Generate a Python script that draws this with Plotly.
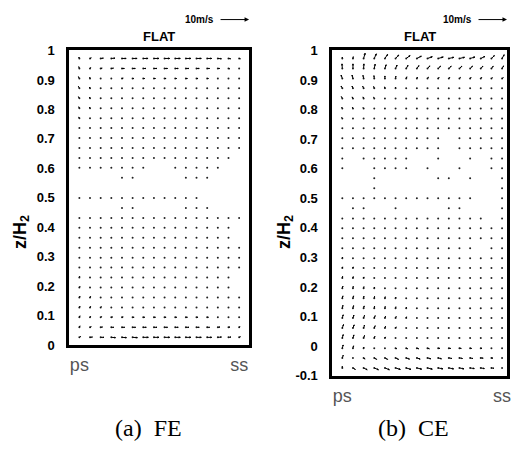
import plotly.graph_objects as go

# ---------------- data ----------------
X_GRID = [0.0, 0.0667, 0.1333, 0.2, 0.2667, 0.3333, 0.4, 0.4667, 0.5333, 0.6,
          0.6667, 0.7333, 0.8, 0.8667, 0.9333, 1.0]
X_TICKS = ["ps", "ss"]
Y_TICKS_FE = [0, 0.1, 0.2, 0.3, 0.4, 0.5, 0.6, 0.7, 0.8, 0.9, 1]
Y_TICKS_CE = [-0.1, 0, 0.1, 0.2, 0.3, 0.4, 0.5, 0.6, 0.7, 0.8, 0.9, 1]

Z_FE = [0.973, 0.939, 0.905, 0.872, 0.838, 0.804, 0.770, 0.737, 0.703, 0.669,
        0.635, 0.602, 0.568, 0.534, 0.500, 0.466, 0.432, 0.399, 0.365, 0.331,
        0.297, 0.264, 0.230, 0.196, 0.162, 0.128, 0.095, 0.061, 0.027]
Z_CE = Z_FE + [-0.007, -0.040, -0.074]

N = None
# velocity components (m/s), rows from top to bottom, 16 columns ps -> ss
U_FE = [
    [-0.2, 0.4, 0.9, 1.2, 1.4, 1.5, 1.6, 1.7, 1.7, 1.7, 1.7, 1.6, 1.5, 1.2, 0.7, 0.4],
    [-0.2, 0.2, 0.5, 0.7, 0.8, 0.9, 0.9, 1.0, 1.0, 1.0, 1.0, 0.9, 0.8, 0.6, 0.4, 0.2],
    [-0.3, -0.1, 0.2, 0.3, 0.4, 0.4, 0.5, 0.5, 0.5, 0.5, 0.5, 0.5, 0.4, 0.3, 0.2, 0.1],
    [-0.3, -0.2, 0.0, 0.1, 0.2, 0.2, 0.2, 0.3, 0.3, 0.3, 0.3, 0.3, 0.2, 0.2, 0.1, 0.1],
    [-0.3, -0.2, -0.1, 0.0, 0.1, 0.1, 0.1, 0.2, 0.2, 0.2, 0.2, 0.2, 0.1, 0.1, 0.1, 0.0],
    [-0.2, -0.2, -0.1, 0.0, 0.0, 0.1, 0.1, 0.1, 0.1, 0.1, 0.1, 0.1, 0.1, 0.3, 0.3, 0.2],
    [-0.2, -0.1, -0.1, 0.0, 0.0, 0.0, 0.1, 0.1, 0.1, 0.1, 0.1, 0.1, 0.0, 0.3, 0.3, 0.2],
    [-0.1, -0.1, 0.0, 0.0, 0.0, 0.0, 0.0, 0.0, 0.0, 0.0, 0.0, 0.0, 0.0, 0.2, 0.2, 0.2],
    [-0.1, 0.0, 0.0, 0.0, 0.0, 0.0, 0.0, 0.0, 0.0, 0.0, 0.0, 0.0, 0.0, 0.1, 0.2, 0.2],
    [0.0, 0.0, 0.0, 0.0, 0.0, 0.0, 0.0, 0.0, 0.0, 0.0, 0.0, 0.0, 0.0, 0.0, 0.1, 0.1],
    [0.0, 0.0, 0.0, 0.0, 0.0, 0.0, 0.0, 0.0, 0.0, 0.0, 0.0, 0.0, 0.0, 0.0, 0.0, N],
    [0.0, 0.0, 0.0, 0.0, 0.0, 0.0, 0.0, N, N, 0.0, 0.0, 0.0, 0.0, 0.0, N, N],
    [N, N, N, N, 0.0, 0.0, N, N, N, N, 0.0, 0.0, 0.0, N, N, N],
    [N, N, N, N, N, N, N, N, N, N, N, N, N, N, N, N],
    [0.0, 0.0, 0.0, 0.0, 0.0, 0.0, 0.0, 0.0, 0.0, 0.0, 0.0, 0.0, N, N, N, N],
    [N, N, N, N, 0.0, 0.0, N, N, N, N, 0.0, 0.0, 0.0, N, N, N],
    [0.0, 0.0, 0.0, 0.0, 0.0, 0.0, 0.0, 0.0, 0.0, 0.0, 0.0, 0.0, 0.0, 0.0, 0.0, 0.0],
    [0.0, 0.0, 0.0, 0.0, 0.0, 0.0, 0.0, 0.0, 0.0, 0.0, 0.0, 0.0, 0.0, 0.0, 0.0, N],
    [0.0, 0.0, 0.0, 0.0, 0.0, 0.0, 0.0, 0.0, 0.0, 0.0, 0.0, 0.0, 0.0, 0.0, 0.0, N],
    [0.0, 0.0, 0.0, 0.0, 0.0, 0.0, 0.0, 0.0, 0.0, 0.0, 0.0, 0.0, 0.0, 0.0, 0.0, 0.0],
    [0.0, 0.0, 0.0, 0.0, 0.0, 0.0, 0.0, 0.0, 0.0, 0.0, 0.0, 0.0, 0.0, 0.0, 0.0, 0.0],
    [0.1, 0.1, 0.1, 0.0, 0.0, 0.0, 0.0, 0.0, 0.0, 0.0, 0.0, 0.0, 0.0, 0.0, 0.0, 0.0],
    [0.1, 0.1, 0.1, 0.1, 0.0, 0.0, 0.0, 0.0, 0.0, 0.0, 0.0, 0.0, 0.0, 0.0, 0.0, N],
    [0.2, 0.1, 0.1, 0.1, 0.0, 0.0, 0.0, 0.0, 0.0, 0.0, 0.0, 0.0, 0.0, 0.0, 0.0, N],
    [0.2, 0.2, 0.1, 0.1, 0.1, 0.0, 0.0, 0.0, 0.0, 0.0, 0.0, 0.0, 0.0, 0.0, 0.0, 0.0],
    [0.2, 0.2, 0.2, 0.2, 0.2, 0.2, 0.2, 0.2, 0.2, 0.2, 0.2, 0.2, 0.2, 0.1, 0.1, 0.0],
    [0.2, 0.2, 0.3, 0.4, 0.4, 0.5, 0.5, 0.5, 0.5, 0.5, 0.5, 0.5, 0.4, 0.3, 0.2, 0.1],
    [0.2, 0.4, 0.6, 0.8, 0.9, 1.0, 1.0, 1.0, 1.0, 1.0, 1.0, 0.9, 0.8, 0.7, 0.5, 0.3],
    [0.4, 0.8, 1.1, 1.4, 1.5, 1.6, 1.7, 1.7, 1.7, 1.7, 1.7, 1.6, 1.5, 1.2, 0.8, 0.4],
]
V_FE = [
    [0.5, 0.2, 0.1, 0.1, 0.0, 0.0, 0.0, 0.0, 0.0, 0.0, 0.0, 0.0, 0.0, -0.1, -0.1, -0.1],
    [0.6, 0.3, 0.1, 0.1, 0.0, 0.0, 0.0, 0.0, 0.0, 0.0, 0.0, 0.0, 0.0, 0.0, -0.1, -0.1],
    [0.6, 0.4, 0.2, 0.1, 0.1, 0.0, 0.0, 0.0, 0.0, 0.0, 0.0, 0.0, 0.0, 0.0, 0.0, 0.0],
    [0.6, 0.4, 0.3, 0.2, 0.1, 0.1, 0.0, 0.0, 0.0, 0.0, 0.0, 0.0, 0.0, 0.0, 0.0, 0.0],
    [0.5, 0.4, 0.3, 0.2, 0.1, 0.1, 0.0, 0.0, 0.0, 0.0, 0.0, 0.0, 0.0, 0.0, 0.0, 0.0],
    [0.5, 0.4, 0.3, 0.2, 0.1, 0.1, 0.0, 0.0, 0.0, 0.0, 0.0, 0.0, 0.0, 0.0, 0.0, 0.0],
    [0.4, 0.3, 0.2, 0.2, 0.1, 0.0, 0.0, 0.0, 0.0, 0.0, 0.0, 0.0, 0.0, 0.0, 0.0, 0.0],
    [0.3, 0.3, 0.2, 0.1, 0.0, 0.0, 0.0, 0.0, 0.0, 0.0, 0.0, 0.0, 0.0, 0.0, 0.0, 0.0],
    [0.3, 0.2, 0.1, 0.1, 0.0, 0.0, 0.0, 0.0, 0.0, 0.0, 0.0, 0.0, 0.0, 0.0, 0.0, 0.0],
    [0.2, 0.2, 0.1, 0.0, 0.0, 0.0, 0.0, 0.0, 0.0, 0.0, 0.0, 0.0, 0.0, 0.0, 0.0, 0.0],
    [0.1, 0.1, 0.1, 0.0, 0.0, 0.0, 0.0, 0.0, 0.0, 0.0, 0.0, 0.0, 0.0, 0.0, 0.0, N],
    [0.1, 0.1, 0.0, 0.0, 0.0, 0.0, 0.0, N, N, 0.0, 0.0, 0.0, 0.0, 0.0, N, N],
    [N, N, N, N, 0.0, 0.0, N, N, N, N, 0.0, 0.0, 0.0, N, N, N],
    [N, N, N, N, N, N, N, N, N, N, N, N, N, N, N, N],
    [0.0, 0.0, 0.0, 0.0, 0.0, 0.0, 0.0, 0.0, 0.0, 0.0, 0.0, 0.0, N, N, N, N],
    [N, N, N, N, 0.0, 0.0, N, N, N, N, 0.0, 0.0, 0.0, N, N, N],
    [0.1, 0.1, 0.0, 0.0, 0.0, 0.0, 0.0, 0.0, 0.0, 0.0, 0.0, 0.0, 0.0, 0.0, 0.0, 0.0],
    [0.1, 0.1, 0.1, 0.0, 0.0, 0.0, 0.0, 0.0, 0.0, 0.0, 0.0, 0.0, 0.0, 0.0, 0.0, N],
    [0.2, 0.1, 0.1, 0.0, 0.0, 0.0, 0.0, 0.0, 0.0, 0.0, 0.0, 0.0, 0.0, 0.0, 0.0, N],
    [0.2, 0.2, 0.1, 0.1, 0.0, 0.0, 0.0, 0.0, 0.0, 0.0, 0.0, 0.0, 0.0, 0.0, 0.0, 0.0],
    [0.3, 0.2, 0.1, 0.1, 0.1, 0.0, 0.0, 0.0, 0.0, 0.0, 0.0, 0.0, 0.0, 0.0, 0.0, 0.0],
    [0.3, 0.3, 0.2, 0.1, 0.1, 0.0, 0.0, 0.0, 0.0, 0.0, 0.0, 0.0, 0.0, 0.0, 0.0, 0.0],
    [0.4, 0.3, 0.2, 0.2, 0.1, 0.1, 0.0, 0.0, 0.0, 0.0, 0.0, 0.0, 0.0, 0.0, 0.0, N],
    [0.4, 0.3, 0.3, 0.2, 0.1, 0.1, 0.0, 0.0, 0.0, 0.0, 0.0, 0.0, 0.0, 0.0, 0.0, N],
    [0.5, 0.4, 0.3, 0.2, 0.1, 0.1, 0.0, 0.0, 0.0, 0.0, 0.0, 0.0, 0.0, 0.0, 0.0, 0.0],
    [0.5, 0.4, 0.3, 0.2, 0.1, 0.1, 0.0, 0.0, 0.0, 0.0, 0.0, 0.0, 0.0, 0.0, 0.0, 0.0],
    [0.5, 0.3, 0.2, 0.1, 0.1, 0.0, 0.0, 0.0, 0.0, 0.0, 0.0, 0.0, 0.0, 0.0, 0.1, 0.1],
    [0.5, 0.2, 0.1, 0.0, 0.0, 0.0, 0.0, 0.0, 0.0, 0.0, 0.0, 0.0, 0.0, 0.1, 0.1, 0.2],
    [0.3, 0.1, 0.0, -0.1, -0.1, -0.1, 0.0, 0.0, 0.0, 0.0, 0.0, 0.0, 0.0, 0.1, 0.1, 0.2],
]

U_CE = [
    [0.0, 0.1, 0.5, 0.7, 0.9, 1.1, 1.3, 1.5, 1.6, 1.7, 1.7, 1.7, 1.6, 1.4, 1.0, 0.7],
    [-0.1, 0.0, 0.1, 0.3, 0.4, 0.5, 0.6, 0.7, 0.8, 0.8, 0.8, 0.8, 0.8, 0.7, 0.6, 0.5],
    [-0.4, -0.3, -0.2, -0.1, 0.0, 0.1, 0.2, 0.2, 0.3, 0.3, 0.3, 0.3, 0.3, 0.3, 0.3, 0.4],
    [-0.4, -0.3, -0.3, -0.2, -0.1, 0.0, 0.1, 0.1, 0.1, 0.1, 0.1, 0.1, 0.1, 0.1, 0.1, 0.1],
    [-0.3, -0.3, -0.2, -0.2, -0.1, -0.1, 0.0, 0.0, 0.0, 0.0, 0.0, 0.0, 0.0, 0.0, 0.0, 0.0],
    [-0.2, -0.2, -0.2, -0.1, -0.1, 0.0, 0.0, 0.0, 0.0, 0.0, 0.0, 0.0, 0.0, 0.0, 0.0, 0.0],
    [-0.2, -0.1, -0.1, -0.1, 0.0, 0.0, 0.0, 0.0, 0.0, 0.0, 0.0, 0.0, 0.0, 0.0, 0.0, 0.0],
    [-0.1, -0.1, -0.1, 0.0, 0.0, 0.0, 0.0, 0.0, 0.0, 0.0, 0.0, 0.0, 0.0, 0.0, 0.0, 0.0],
    [-0.1, 0.0, 0.0, 0.0, 0.0, 0.0, 0.0, 0.0, 0.0, 0.0, N, 0.0, 0.0, 0.0, 0.0, 0.0],
    [0.0, 0.0, 0.0, 0.0, 0.0, 0.0, 0.0, 0.0, 0.0, 0.0, N, 0.0, 0.0, 0.0, 0.0, 0.0],
    [0.0, N, 0.0, 0.0, 0.0, 0.0, 0.0, N, N, 0.0, N, N, 0.0, N, 0.0, 0.0],
    [0.0, N, N, 0.0, 0.0, 0.0, 0.0, N, 0.0, N, N, 0.0, N, N, 0.0, 0.0],
    [N, N, N, 0.0, N, N, N, N, N, 0.0, 0.0, N, 0.0, N, N, 0.0],
    [N, N, N, 0.0, N, N, N, N, N, N, N, N, N, N, N, 0.0],
    [0.0, 0.0, 0.0, 0.0, 0.0, 0.0, 0.0, 0.0, 0.0, 0.0, 0.0, 0.0, 0.0, N, N, 0.0],
    [N, 0.0, 0.0, N, N, 0.0, N, N, N, N, 0.0, 0.0, N, N, N, 0.0],
    [0.0, 0.0, 0.0, 0.0, 0.0, 0.0, 0.0, 0.0, 0.0, 0.0, 0.0, 0.0, 0.0, 0.0, N, 0.0],
    [0.0, 0.0, 0.0, 0.0, 0.0, 0.0, 0.0, 0.0, 0.0, 0.0, 0.0, 0.0, 0.0, 0.0, 0.0, 0.0],
    [0.0, 0.0, 0.0, 0.0, 0.0, 0.0, 0.0, 0.0, 0.0, 0.0, 0.0, 0.0, 0.0, 0.0, 0.0, 0.0],
    [0.0, 0.0, 0.0, 0.0, 0.0, 0.0, 0.0, 0.0, 0.0, 0.0, 0.0, 0.0, 0.0, N, 0.0, 0.0],
    [0.1, 0.1, 0.0, 0.0, 0.0, 0.0, 0.0, 0.0, 0.0, 0.0, 0.0, 0.0, 0.0, 0.0, 0.0, 0.0],
    [0.1, 0.1, 0.1, 0.0, 0.0, 0.0, 0.0, 0.0, 0.0, 0.0, 0.0, 0.0, 0.0, 0.0, 0.0, 0.0],
    [0.1, 0.1, 0.1, 0.1, 0.0, 0.0, 0.0, 0.0, 0.0, 0.0, 0.0, 0.0, 0.0, 0.0, 0.0, 0.0],
    [0.2, 0.1, 0.1, 0.1, 0.1, 0.0, 0.0, 0.0, 0.0, 0.0, 0.0, 0.0, 0.0, 0.0, 0.0, 0.0],
    [0.2, 0.2, 0.1, 0.1, 0.1, 0.1, 0.0, 0.0, 0.0, 0.0, 0.0, 0.0, 0.0, 0.0, 0.0, 0.0],
    [0.2, 0.2, 0.2, 0.1, 0.1, 0.1, 0.1, 0.0, 0.0, 0.0, 0.0, 0.0, 0.0, 0.0, 0.0, 0.0],
    [0.3, 0.3, 0.3, 0.3, 0.2, 0.2, 0.1, 0.1, 0.0, 0.0, 0.0, 0.0, 0.0, 0.0, 0.0, 0.0],
    [0.4, 0.4, 0.3, 0.3, 0.2, 0.2, 0.1, 0.1, 0.1, 0.0, 0.0, 0.0, 0.0, 0.0, 0.0, 0.0],
    [0.3, 0.3, 0.3, 0.2, 0.2, 0.1, 0.1, 0.1, 0.1, 0.1, 0.1, 0.1, 0.1, 0.1, 0.0, 0.0],
    [0.3, 0.2, 0.1, 0.1, 0.3, 0.4, 0.5, 0.6, 0.6, 0.6, 0.6, 0.6, 0.5, 0.4, 0.3, 0.2],
    [0.3, 0.1, 0.5, 0.8, 0.9, 1.0, 1.1, 1.1, 1.1, 1.1, 1.0, 1.0, 0.9, 0.8, 0.5, 0.3],
    [0.0, 0.8, 1.2, 1.4, 1.5, 1.6, 1.6, 1.6, 1.6, 1.6, 1.6, 1.5, 1.4, 1.2, 0.8, 0.3],
]
V_CE = [
    [0.5, 0.6, 1.8, 1.6, 1.4, 1.2, 1.0, 0.8, 0.6, 0.5, 0.4, 0.4, 0.5, 0.7, 1.0, 1.3],
    [1.6, 1.6, 1.6, 1.5, 1.3, 1.2, 1.1, 1.0, 0.9, 0.8, 0.8, 0.8, 0.8, 0.8, 0.8, 0.9],
    [1.2, 1.2, 1.1, 1.0, 0.9, 0.8, 0.6, 0.5, 0.5, 0.4, 0.4, 0.4, 0.4, 0.4, 0.3, 0.3],
    [0.8, 0.8, 0.7, 0.6, 0.5, 0.4, 0.3, 0.3, 0.2, 0.2, 0.2, 0.2, 0.2, 0.2, 0.2, 0.2],
    [0.6, 0.5, 0.5, 0.4, 0.3, 0.3, 0.2, 0.2, 0.1, 0.1, 0.1, 0.1, 0.1, 0.1, 0.1, 0.1],
    [0.4, 0.4, 0.3, 0.3, 0.2, 0.2, 0.1, 0.1, 0.1, 0.1, 0.0, 0.0, 0.0, 0.0, 0.0, 0.1],
    [0.3, 0.3, 0.2, 0.2, 0.1, 0.1, 0.1, 0.0, 0.0, 0.0, 0.0, 0.0, 0.0, 0.0, 0.0, 0.0],
    [0.2, 0.2, 0.2, 0.1, 0.1, 0.0, 0.0, 0.0, 0.0, 0.0, 0.0, 0.0, 0.0, 0.0, 0.0, 0.0],
    [0.2, 0.1, 0.1, 0.1, 0.0, 0.0, 0.0, 0.0, 0.0, 0.0, N, 0.0, 0.0, 0.0, 0.0, 0.0],
    [0.1, 0.1, 0.1, 0.0, 0.0, 0.0, 0.0, 0.0, 0.0, 0.0, N, 0.0, 0.0, 0.0, 0.0, 0.0],
    [0.0, N, 0.0, 0.0, 0.0, 0.0, 0.0, N, N, 0.0, N, N, 0.0, N, 0.0, 0.0],
    [0.0, N, N, 0.0, 0.0, 0.0, 0.0, N, 0.0, N, N, 0.0, N, N, 0.0, 0.0],
    [N, N, N, 0.0, N, N, N, N, N, 0.0, 0.0, N, 0.0, N, N, 0.0],
    [N, N, N, 0.0, N, N, N, N, N, N, N, N, N, N, N, 0.0],
    [0.0, 0.0, 0.0, 0.0, 0.0, 0.0, 0.0, 0.0, 0.0, 0.0, 0.0, 0.0, 0.0, N, N, 0.0],
    [N, 0.0, 0.0, N, N, 0.0, N, N, N, N, 0.0, 0.0, N, N, N, 0.0],
    [0.1, 0.1, 0.0, 0.0, 0.0, 0.0, 0.0, 0.0, 0.0, 0.0, 0.0, 0.0, 0.0, 0.0, N, 0.0],
    [0.2, 0.1, 0.1, 0.0, 0.0, 0.0, 0.0, 0.0, 0.0, 0.0, 0.0, 0.0, 0.0, 0.0, 0.0, 0.0],
    [0.2, 0.2, 0.1, 0.1, 0.0, 0.0, 0.0, 0.0, 0.0, 0.0, 0.0, 0.0, 0.0, 0.0, 0.0, 0.0],
    [0.3, 0.2, 0.2, 0.1, 0.1, 0.0, 0.0, 0.0, 0.0, 0.0, 0.0, 0.0, 0.0, N, 0.0, 0.0],
    [0.4, 0.3, 0.2, 0.2, 0.1, 0.1, 0.0, 0.0, 0.0, 0.0, 0.0, 0.0, 0.0, 0.0, 0.0, 0.0],
    [0.4, 0.4, 0.3, 0.2, 0.2, 0.1, 0.1, 0.0, 0.0, 0.0, 0.0, 0.0, 0.0, 0.0, 0.0, 0.0],
    [0.6, 0.5, 0.4, 0.3, 0.2, 0.2, 0.1, 0.1, 0.0, 0.0, 0.0, 0.0, 0.0, 0.0, 0.0, 0.0],
    [0.7, 0.6, 0.5, 0.4, 0.3, 0.2, 0.2, 0.1, 0.1, 0.0, 0.0, 0.0, 0.0, 0.0, 0.0, 0.0],
    [0.8, 0.8, 0.7, 0.6, 0.5, 0.4, 0.3, 0.2, 0.1, 0.1, 0.0, 0.0, 0.0, 0.0, 0.0, 0.0],
    [1.0, 0.9, 0.8, 0.7, 0.6, 0.5, 0.4, 0.3, 0.2, 0.1, 0.1, 0.0, 0.0, 0.0, 0.0, 0.0],
    [1.1, 1.0, 0.9, 0.8, 0.6, 0.5, 0.4, 0.3, 0.2, 0.2, 0.1, 0.1, 0.0, 0.0, 0.0, 0.0],
    [1.2, 1.1, 1.0, 0.8, 0.6, 0.4, 0.3, 0.2, 0.1, 0.1, 0.1, 0.0, 0.0, 0.0, 0.0, 0.0],
    [1.2, 1.1, 0.9, 0.6, 0.4, 0.2, 0.1, 0.0, 0.0, 0.0, 0.0, 0.0, 0.0, 0.0, 0.0, 0.0],
    [1.1, 0.8, 0.4, 0.2, -0.1, -0.2, -0.2, -0.2, -0.2, -0.1, -0.1, -0.1, -0.1, -0.1, 0.0, 0.0],
    [0.9, 0.2, -0.4, -0.5, -0.5, -0.5, -0.4, -0.4, -0.3, -0.3, -0.2, -0.2, -0.2, -0.1, -0.1, 0.0],
    [0.6, -0.5, -0.6, -0.6, -0.6, -0.5, -0.5, -0.4, -0.4, -0.3, -0.3, -0.3, -0.2, -0.2, -0.1, 0.0],
]

REF_SPEED = 10  # m/s reference arrow
CAPTIONS = ["(a)&nbsp;&nbsp;FE", "(b)&nbsp;&nbsp;CE"]
PANEL_TITLE = "FLAT"

# ---------------- geometry ----------------
W, H = 515, 449
PX_PER_MS = 3.0          # screen pixels per m/s of velocity
PANELS = [
    dict(px=(70, 251), py=(45, 350), xr=(-0.062, 1.062), yr=(0.0, 1.0),
         cap_x=150, ytitle_x=21),
    dict(px=(335, 511), py=(45, 382), xr=(-0.062, 1.031), yr=(-0.102, 1.0),
         cap_x=417, ytitle_x=287),
]


def quiver_xy(Z, U, V, p):
    sx = (p["px"][1] - p["px"][0]) / (p["xr"][1] - p["xr"][0])
    sy = (p["py"][1] - p["py"][0]) / (p["yr"][1] - p["yr"][0])
    xs, ys, dx, dy = [], [], [], []
    for r, z in enumerate(Z):
        for c, x0 in enumerate(X_GRID):
            u, v = U[r][c], V[r][c]
            if u is None or v is None:
                continue
            dx.append(x0)
            dy.append(z)
            du, dv = u * PX_PER_MS, v * PX_PER_MS
            if (du * du + dv * dv) < 1.0:
                continue
            tx, ty = x0 + du / sx, z + dv / sy
            xs += [x0, tx, None]
            ys += [z, ty, None]
            a, b = 0.33, 0.33
            h1x, h1y = du - a * (du + b * dv), dv - a * (dv - b * du)
            h2x, h2y = du - a * (du - b * dv), dv - a * (dv + b * du)
            xs += [x0 + h1x / sx, tx, x0 + h2x / sx, None]
            ys += [z + h1y / sy, ty, z + h2y / sy, None]
    return xs, ys, dx, dy


fig = go.Figure()
for i, (Z, U, V) in enumerate([(Z_FE, U_FE, V_FE), (Z_CE, U_CE, V_CE)]):
    p = PANELS[i]
    xs, ys, dx, dy = quiver_xy(Z, U, V, p)
    xa = "x" if i == 0 else "x2"
    ya = "y" if i == 0 else "y2"
    fig.add_trace(go.Scatter(x=dx, y=dy, mode="markers", xaxis=xa, yaxis=ya,
                             marker=dict(size=2, color="#222222", line=dict(width=0)),
                             showlegend=False, hoverinfo="skip"))
    fig.add_trace(go.Scatter(x=xs, y=ys, mode="lines", xaxis=xa, yaxis=ya,
                             line=dict(color="black", width=1),
                             showlegend=False, hoverinfo="skip"))

SANS = "Liberation Sans, Arial, sans-serif"
tick_font = dict(family=SANS, size=13, color="black", weight="bold")
xt_font = dict(family=SANS, size=18, color="#555555")


def ax_common():
    return dict(showline=True, mirror=True, linewidth=3, linecolor="black",
                showgrid=False, zeroline=False, fixedrange=True)


layout = dict(width=W, height=H, margin=dict(l=0, r=0, t=0, b=0),
              paper_bgcolor="white", plot_bgcolor="white", showlegend=False)

for i, p in enumerate(PANELS):
    xk = "xaxis" if i == 0 else "xaxis2"
    yk = "yaxis" if i == 0 else "yaxis2"
    yt = Y_TICKS_FE if i == 0 else Y_TICKS_CE
    layout[xk] = dict(ax_common(), domain=[p["px"][0] / W, p["px"][1] / W],
                      range=list(p["xr"]), tickvals=[X_GRID[0], X_GRID[-1]],
                      ticktext=X_TICKS, ticks="", tickfont=xt_font,
                      ticklabelstandoff=1, ticklabeloverflow="allow",
                      anchor="y" if i == 0 else "y2")
    layout[yk] = dict(ax_common(), domain=[1 - p["py"][1] / H, 1 - p["py"][0] / H],
                      range=list(p["yr"]), tickvals=yt,
                      ticktext=[("%g" % t) for t in yt], ticks="",
                      tickfont=tick_font, ticklabelstandoff=9,
                      ticklabeloverflow="allow",
                      anchor="x" if i == 0 else "x2")

fig.update_layout(**layout)


def label(xpx, ypx, text, font, **kw):
    d = dict(x=xpx / W, y=1 - ypx / H, xref="paper", yref="paper", text=text,
             showarrow=False, xanchor="center", yanchor="middle", font=font)
    d.update(kw)
    return d


annos = []
for i, p in enumerate(PANELS):
    cx = (p["px"][0] + p["px"][1]) / 2
    annos.append(label(cx, 31, "<b>%s</b>" % PANEL_TITLE,
                       dict(family=SANS, size=13, color="black")))
    x_end = p["px"][1]
    annos.append(dict(x=x_end / W, y=1 - 13 / H, xref="paper", yref="paper",
                      ax=-REF_SPEED * PX_PER_MS, ay=0, axref="pixel", ayref="pixel",
                      text="", showarrow=True, arrowhead=2, arrowsize=0.9,
                      arrowwidth=1, arrowcolor="black"))
    annos.append(label(x_end - REF_SPEED * PX_PER_MS - 3, 13, "<b>%dm/s</b>" % REF_SPEED,
                       dict(family=SANS, size=10, color="black"), xanchor="right"))
    annos.append(label(p["ytitle_x"], 233, "<b>z/H<sub>2</sub></b>",
                       dict(family=SANS, size=18, color="black"), textangle=-90))
    annos.append(label(p["cap_x"], 436, CAPTIONS[i],
                       dict(family="Liberation Serif, Times New Roman, serif",
                            size=24, color="black")))

fig.update_layout(annotations=annos)
ps = ("var d=document.getElementById('{plot_id}');"
      "d.style.position='absolute';d.style.top='0px';d.style.left='0px';"
      "document.body.style.margin='0';document.documentElement.style.overflow='hidden';")
fig.write_html("out.html", config={"displayModeBar": False}, post_script=ps)
